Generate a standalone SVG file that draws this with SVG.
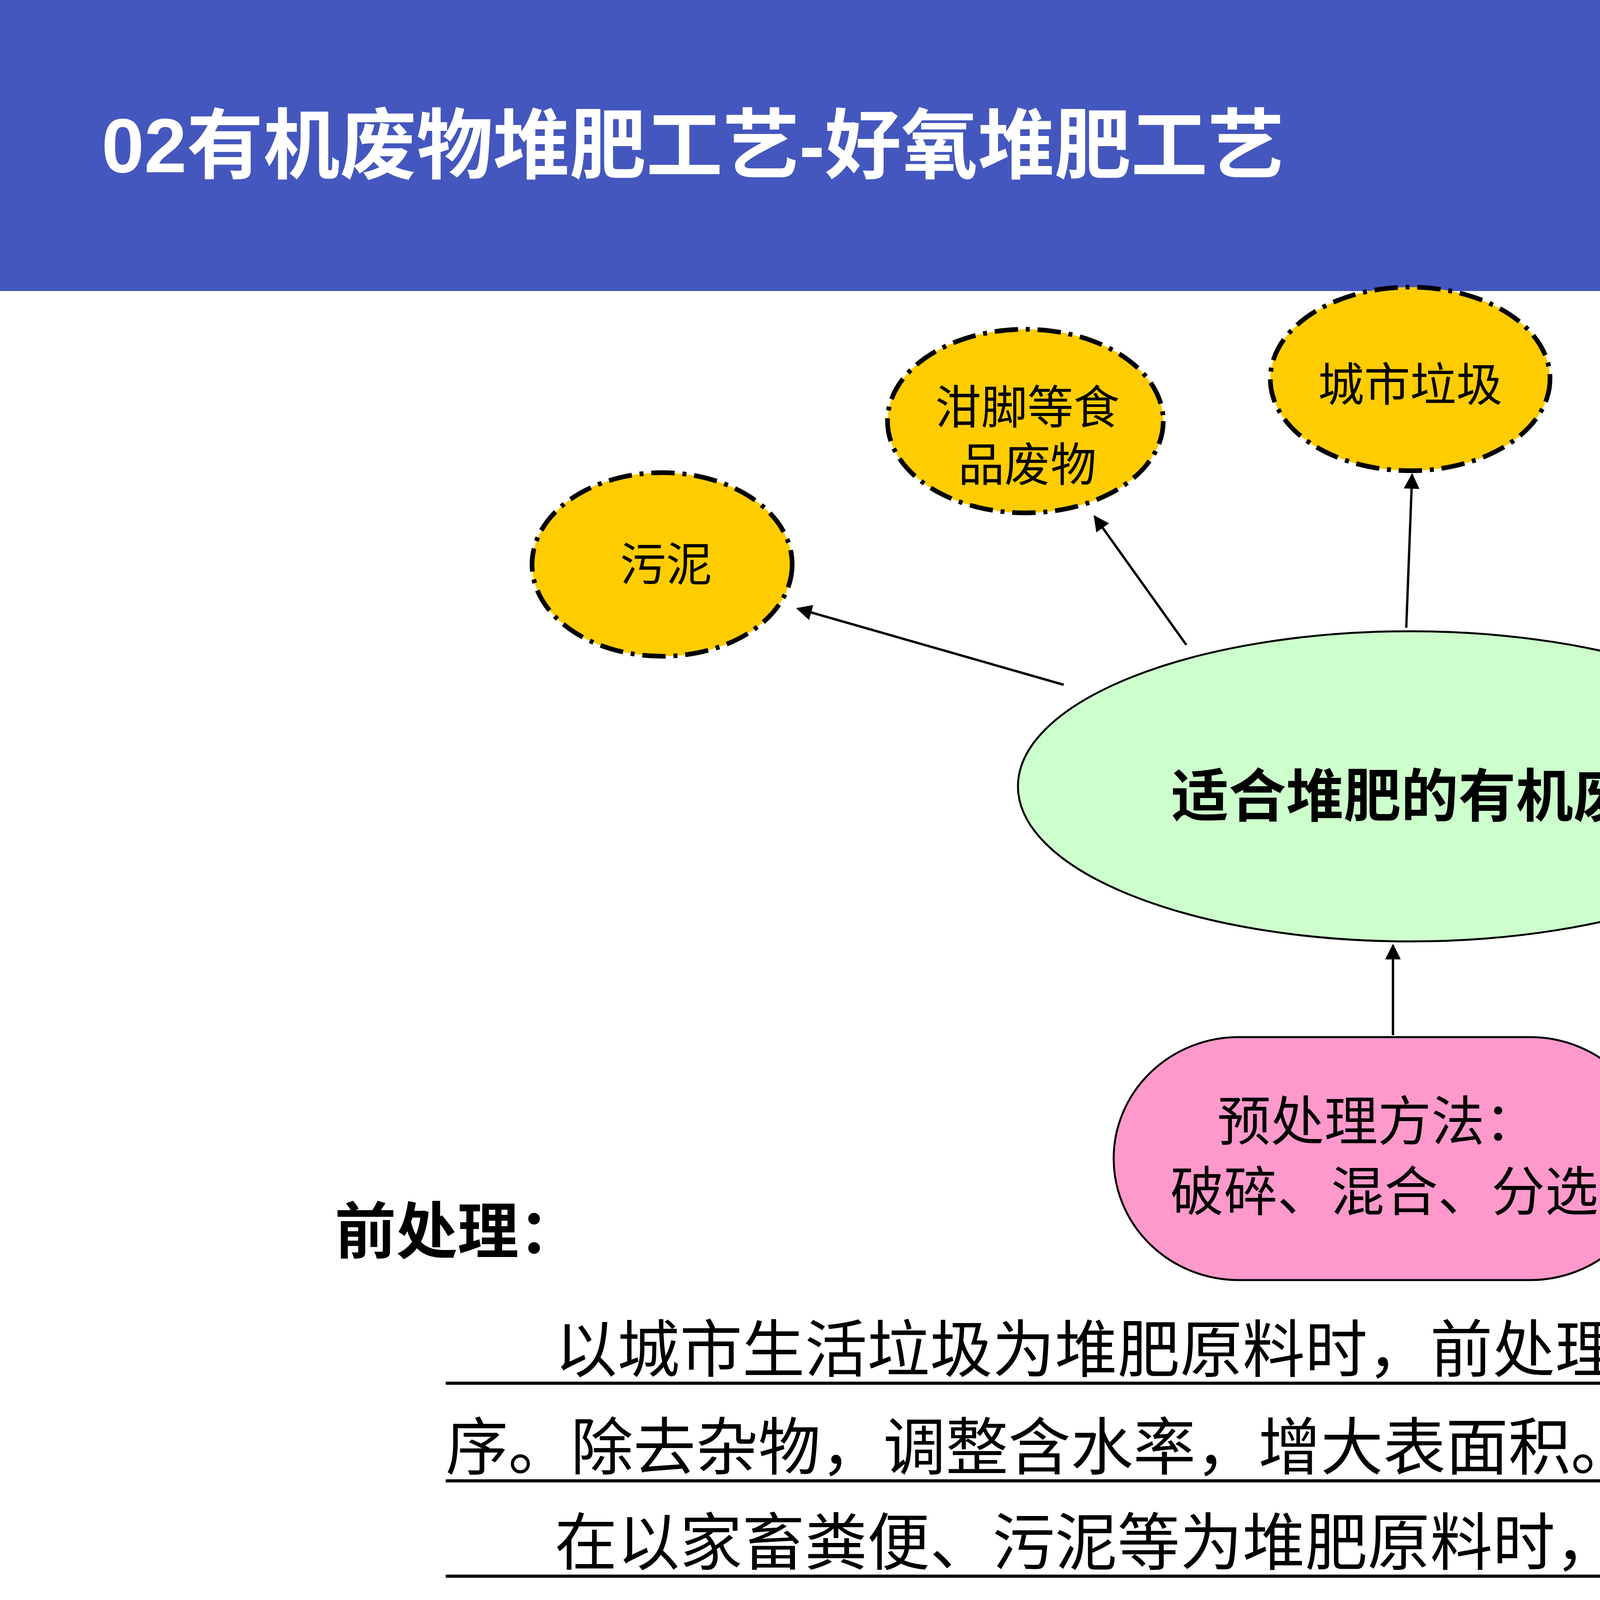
<svg xmlns="http://www.w3.org/2000/svg" width="7680" height="4320" viewBox="0 0 7680 4320">
<style>
.f{font-family:"Liberation Sans","Noto Sans CJK SC",sans-serif}
.y{fill:#FFCC00;stroke:#000;stroke-width:12;stroke-dasharray:60 20 10 20}
.t{font-size:118px;fill:#000;text-anchor:middle}
.c{stroke:#000;stroke-width:6;fill:none;marker-end:url(#a)}
.p{font-size:160px;fill:#000}
.u{stroke:#000;stroke-width:8}
</style>
<defs><marker id="a" viewBox="0 0 10 10" refX="9" refY="5" markerWidth="50" markerHeight="40" markerUnits="userSpaceOnUse" orient="auto"><path d="M0,0L10,5L0,10z" fill="#000"/></marker></defs>
<rect width="7680" height="4320" fill="#fff"/>
<rect width="7680" height="745" fill="#4457BE"/>
<text class="f" x="260" y="441" font-size="196" font-weight="bold" fill="#fff">02有机废物堆肥工艺-好氧堆肥工艺</text>
<g id="connectors">
<line class="c" x1="2723" y1="1753" x2="2042" y2="1558"/>
<line class="c" x1="3037" y1="1651" x2="2802" y2="1322"/>
<line class="c" x1="3600" y1="1607" x2="3615" y2="1215"/>
<line class="c" x1="4144" y1="1685" x2="4330" y2="1401"/>
<line class="c" x1="4575" y1="1905" x2="5158" y2="1695"/>
<line class="c" x1="3566" y1="2650" x2="3566" y2="2420"/>
</g>
<g id="center"><ellipse cx="3610" cy="2013" rx="1004" ry="397" fill="#CCFFCC" stroke="#000" stroke-width="5"/>
<text class="f" x="3660" y="2090" font-size="147" font-weight="bold" text-anchor="middle">适合堆肥的有机废物</text></g>
<g id="n1"><ellipse class="y" cx="1695" cy="1445" rx="333" ry="235"/><text class="f t" x="1705" y="1487">污泥</text></g>
<g id="n2"><ellipse class="y" cx="2625" cy="1078" rx="353" ry="235"/><text class="f t" x="2630" y="1085">泔脚等食</text><text class="f t" x="2630" y="1232">品废物</text></g>
<g id="n3"><ellipse class="y" cx="3610" cy="970" rx="358" ry="235"/><text class="f t" x="3610" y="1027">城市垃圾</text></g>
<g id="n4"><ellipse class="y" cx="4496" cy="1151" rx="353" ry="235"/><text class="f t" x="4500" y="1193">农林废物</text></g>
<g id="n5"><ellipse class="y" cx="5407" cy="1518" rx="358" ry="230"/><text class="f t" x="5420" y="1540">禽畜粪便</text></g>
<g id="pre"><rect x="2851" y="2655" width="1386" height="622" rx="320" fill="#FF99CC" stroke="#000" stroke-width="5"/>
<text class="f" x="3527" y="2920" font-size="137" text-anchor="middle">预处理方法：</text>
<text class="f" x="3544" y="3100" font-size="137" text-anchor="middle">破碎、混合、分选</text></g>
<text class="f" x="857" y="3208" font-size="157" font-weight="bold">前处理：</text>
<text class="f p" x="1420" y="3512" textLength="4962">以城市生活垃圾为堆肥原料时，前处理通常包括破碎、分选、筛分等工</text>
<text class="f p" x="1141" y="3762">序。除去杂物，调整含水率，增大表面积。</text>
<text class="f p" x="1420" y="4006" textLength="4962">在以家畜粪便、污泥等为堆肥原料时，前处理的主要任务是调整水分和</text>
<text class="f p" x="1141" y="4256">碳氮比，或者添加菌种和酶制剂。</text>
<line class="u" x1="1141" y1="3541" x2="6382" y2="3541"/>
<line class="u" x1="1141" y1="3791" x2="4173" y2="3791"/>
<line class="u" x1="1141" y1="4035" x2="6382" y2="4035"/>
<line class="u" x1="1141" y1="4285" x2="3536" y2="4285"/>
</svg>
